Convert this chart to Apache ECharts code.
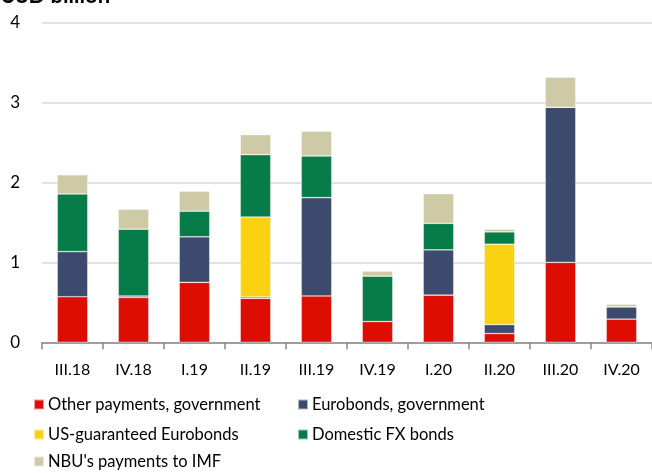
<!DOCTYPE html>
<html><head><meta charset="utf-8">
<script src="https://cdn.jsdelivr.net/npm/echarts@6/dist/echarts.min.js"></script>
<style>html,body{margin:0;padding:0;background:#fff}#c{width:652px;height:473px}</style>
</head><body><div id="c"></div>
<script>
const categories = ['III.18','IV.18','I.19','II.19','III.19','IV.19','I.20','II.20','III.20','IV.20'];
const otherGov   = [0.57, 0.56, 0.75, 0.55, 0.58, 0.26, 0.59, 0.11, 1.00, 0.29];
const euroGov    = [0.565,0.02, 0.57, 0.017,1.23, 0,    0.567,0.112,1.94, 0.154];
const usGuar     = [0,    0,    0,    1.00, 0,    0,    0,    1.005,0,    0];
const domesticFX = [0.72, 0.835,0.32, 0.78, 0.52, 0.568,0.33, 0.154,0,    0];
const nbuIMF     = [0.24, 0.25, 0.25, 0.25, 0.31, 0.063,0.372,0.034,0.376,0.033];
const yTicks = [0,1,2,3,4];

const FONT = 'Lato';
const names = ['Other payments, government','Eurobonds, government','US-guaranteed Eurobonds','Domestic FX bonds',"NBU's payments to IMF"];
const colors = ['#DE0D02','#3C4A6D','#FBD211','#077B48','#CECAA5'];
const datas = [otherGov, euroGov, usGuar, domesticFX, nbuIMF];
const legendPos = [[33,396],[297,396],[33,426],[297,426],[33,453]];

const chart = echarts.init(document.getElementById('c'), null, {renderer:'canvas'});
chart.setOption({
  animation:false,
  textStyle:{fontFamily:FONT},
  title:{text:'USD billion', left:-5, top:-20, textStyle:{fontFamily:FONT, fontWeight:'bold', fontSize:22, color:'#000'}},
  grid:{left:42, right:-1, top:22.5, bottom:130.7, containLabel:false},
  legend: names.map((n,i)=>({data:[n], left:legendPos[i][0], top:legendPos[i][1], itemWidth:10, itemHeight:10, itemGap:5, icon:'rect', padding:0,
     textStyle:{fontFamily:FONT, fontSize:16.5, color:'#000', padding:[0,0,0,-1]}})),
  xAxis:{type:'category', data:categories, boundaryGap:true,
    axisLine:{lineStyle:{color:'#888', width:1.5}},
    axisTick:{show:true, length:7, lineStyle:{color:'#888', width:1.5}},
    axisLabel:{color:'#000', fontSize:16, fontFamily:FONT, margin:20}},
  yAxis:{type:'value', min:0, max:4, interval:1,
    axisLine:{show:false}, axisTick:{show:false},
    splitLine:{lineStyle:{color:'#d9d9d9', width:1.5}},
    axisLabel:{color:'#000', fontSize:17, fontFamily:FONT, margin:22, formatter:v=>yTicks.includes(v)?String(v):''}},
  series: names.map((n,i)=>({name:n, type:'bar', stack:'t', barWidth:'50%',
    itemStyle:{color:colors[i], borderColor:'rgba(255,255,255,0.6)', borderWidth:0.6},
    data: datas[i]}))
});
</script></body></html>
